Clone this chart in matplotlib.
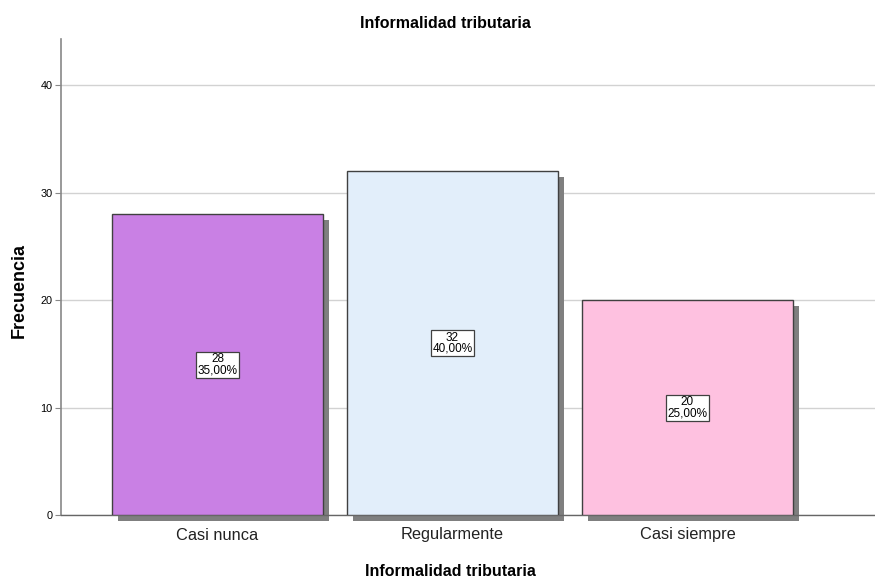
import matplotlib
matplotlib.use("Agg")
import matplotlib.pyplot as plt
import matplotlib.transforms as mtransforms

# datos de la tabla de frecuencias
categorias = ["Casi nunca", "Regularmente", "Casi siempre"]
frecuencias = [28, 32, 20]
porcentajes = [35.00, 40.00, 25.00]
colores = ["#C980E4", "#E2EEFA", "#FEC1E0"]

plt.rcParams["font.family"] = ["Liberation Sans", "DejaVu Sans"]

fig = plt.figure(figsize=(8.75, 5.81), dpi=100)
ax = fig.add_axes([61 / 875, 1 - 515 / 581, (875 - 61) / 875, (515 - 39) / 581])

x = list(range(len(categorias)))
ancho = 0.898

# sombra de las barras, desplazada abajo a la derecha
sombra = ax.transData + mtransforms.ScaledTranslation(6 / 100, -6 / 100, fig.dpi_scale_trans)
ax.bar(x, frecuencias, width=ancho, color="#7F7F7F", edgecolor="none",
       transform=sombra, zorder=2, clip_on=False)
ax.bar(x, frecuencias, width=ancho, color=colores, edgecolor="#404040",
       linewidth=1.0, zorder=3)

for xi, f, p in zip(x, frecuencias, porcentajes):
    txt = f"{f}\n{p:.2f}%".replace(".", ",")
    ax.text(xi, f / 2, txt, ha="center", va="center", fontsize=8.5,
            linespacing=0.9, zorder=4,
            bbox=dict(boxstyle="square,pad=0.12", facecolor="white",
                      edgecolor="#404040", linewidth=0.9))

ax.set_xlim(-0.666, 2.798)
ax.set_ylim(0, 44.3)
ax.set_yticks([0, 10, 20, 30, 40])
ax.set_xticks(x)
ax.set_xticklabels(categorias, fontsize=11.8, color="#222222")
ax.tick_params(axis="y", labelsize=7.8, length=4, color="#888888", pad=2)
ax.tick_params(axis="x", length=0, pad=9)

ax.yaxis.grid(True, color="#D2D2D2", linewidth=1.0, zorder=0)
ax.set_axisbelow(True)
for s in ["top", "right"]:
    ax.spines[s].set_visible(False)
ax.spines["left"].set_color("#888888")
ax.spines["left"].set_linewidth(1.2)
ax.spines["bottom"].set_color("#666666")
ax.spines["bottom"].set_linewidth(1.0)

fig.text(445 / 875, 1 - 23 / 581, "Informalidad tributaria", ha="center",
         va="center", fontsize=11.5, fontweight="bold")
fig.text(450 / 875, 1 - 572 / 581, "Informalidad tributaria", ha="center",
         va="center", fontsize=11.5, fontweight="bold")
fig.text(19 / 875, 1 - 290 / 581, "Frecuencia", ha="center", va="center",
         rotation=90, fontsize=13, fontweight="bold")

fig.savefig("out.png", dpi=100, facecolor="white")
